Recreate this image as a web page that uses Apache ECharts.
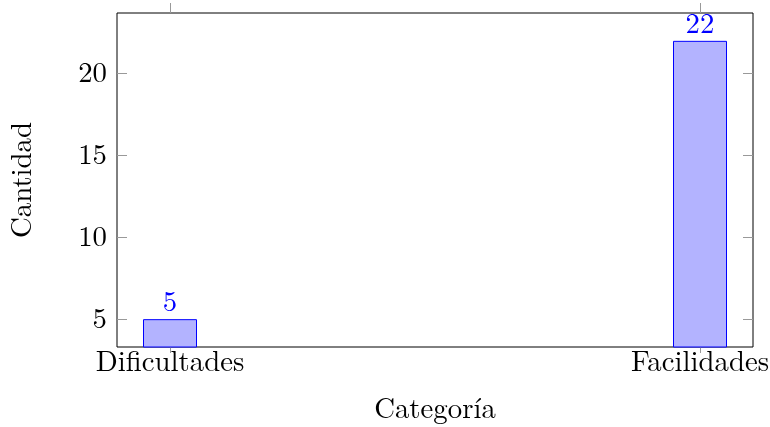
<!DOCTYPE html>
<html>
<head>
<meta charset="utf-8">
<script src="https://cdn.jsdelivr.net/npm/echarts@6/dist/echarts.min.js"></script>
<style>
html,body{margin:0;padding:0;background:#fff;}
#main{width:770px;height:427px;}
</style>
</head>
<body>
<div id="main"></div>
<script>
const categories = ['Dificultades', 'Facilidades'];
const values = [5, 22];
const yTicks = [5, 10, 15, 20];
const xTitle = 'Categoría';
const yTitle = 'Cantidad';

const FONT = "'Latin Modern Roman','DejaVu Serif','Liberation Serif',serif";
const FS = 28.8;
const catIdx = categories.map((c, i) => i);
const chart = echarts.init(document.getElementById('main'), null, {renderer: 'canvas'});

chart.setOption({
  animation: false,
  backgroundColor: '#fff',
  grid: {left: 117, right: 17, top: 13, bottom: 80, outerBoundsMode: 'none', containLabel: false,
    show: true, borderColor: '#000', borderWidth: 1, backgroundColor: 'transparent'},
  xAxis: [{
    type: 'value', position: 'bottom', min: -0.1, max: 1.1,
    axisLine: {show: false, onZero: false}, splitLine: {show: false},
    axisTick: {show: true, inside: false, length: 6, customValues: catIdx, lineStyle: {color: '#999', width: 1}},
    axisLabel: {show: true, customValues: catIdx, margin: 1, color: '#000', fontFamily: FONT, fontSize: FS,
      formatter: v => categories[Math.round(v)]},
    name: xTitle, nameLocation: 'middle', nameGap: 48,
    nameTextStyle: {color: '#000', fontFamily: FONT, fontSize: FS}
  }, {
    type: 'value', position: 'top', min: -0.1, max: 1.1,
    axisLine: {show: false, onZero: false}, splitLine: {show: false},
    axisTick: {show: true, inside: false, length: 10, customValues: catIdx, lineStyle: {color: '#999', width: 1}},
    axisLabel: {show: false}
  }],
  yAxis: [{
    type: 'value', position: 'left', min: 3.3, max: 23.7,
    axisLine: {show: false, onZero: false}, splitLine: {show: false},
    axisTick: {show: true, inside: true, length: 10, customValues: yTicks, lineStyle: {color: '#999', width: 1}},
    axisLabel: {show: true, customValues: yTicks, margin: 10, color: '#000', fontFamily: FONT, fontSize: FS},
    name: yTitle, nameLocation: 'middle', nameGap: 80, nameRotate: 90,
    nameTextStyle: {color: '#000', fontFamily: FONT, fontSize: FS}
  }, {
    type: 'value', position: 'right', min: 3.3, max: 23.7,
    axisLine: {show: false, onZero: false}, splitLine: {show: false},
    axisTick: {show: true, inside: true, length: 10, customValues: yTicks, lineStyle: {color: '#999', width: 1}},
    axisLabel: {show: false}
  }],
  series: [{
    type: 'bar', xAxisIndex: 0, yAxisIndex: 0,
    data: values.map((v, i) => [catIdx[i], v]),
    barWidth: 54,
    itemStyle: {color: '#b3b3ff', borderColor: '#0000ff', borderWidth: 1},
    label: {show: true, position: 'top', distance: 2, color: '#0000ff', fontFamily: FONT, fontSize: FS}
  }]
});
</script>
</body>
</html>
